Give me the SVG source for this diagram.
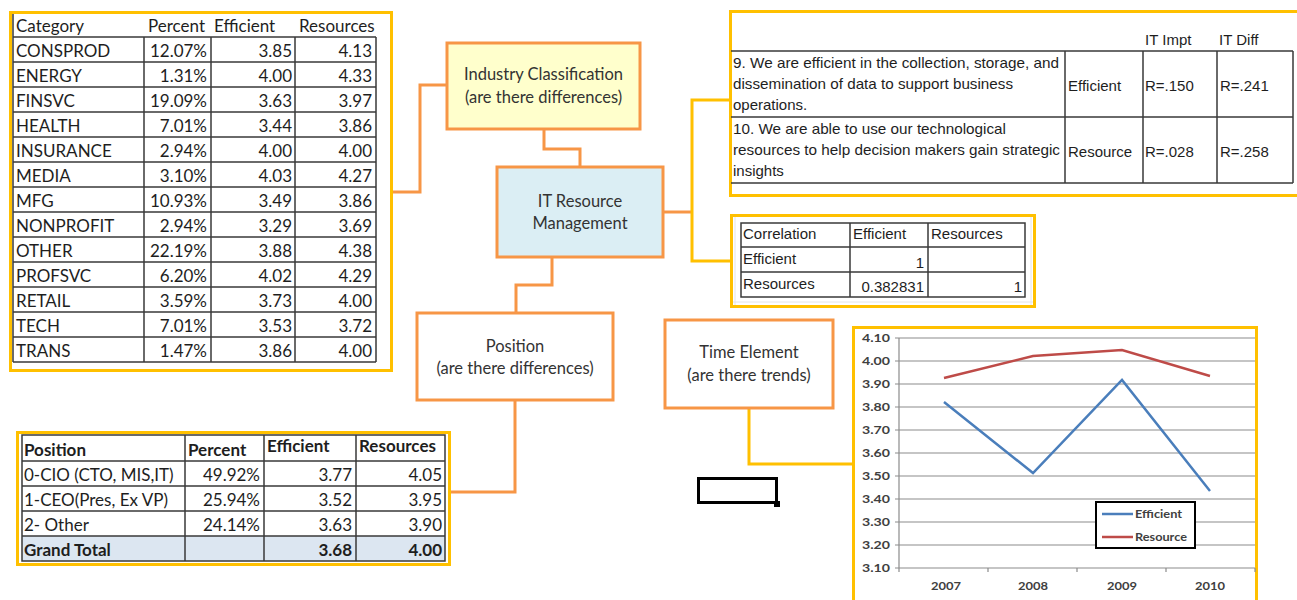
<svg xmlns="http://www.w3.org/2000/svg" width="1297" height="600" viewBox="0 0 1297 600">
<style>
.frame{fill:#fff;stroke:#FFC000;stroke-width:3}
.node{stroke:#F79646;stroke-width:3}
.conO{fill:none;stroke:#F79646;stroke-width:3}
.conY{fill:none;stroke:#FFC000;stroke-width:3}
.grid{stroke:#3a3a3a;stroke-width:1.5;fill:none}
.faint{stroke:#e4e4e4;stroke-width:1;fill:none}
.cal{font-family:Lato,"Liberation Sans",sans-serif;font-size:17px;fill:#1e1e1e}
.ar{font-family:"Liberation Sans",Arial,sans-serif;font-size:15px;fill:#1e1e1e}
.nt{font-family:Lato,"Liberation Sans",sans-serif;font-size:16.5px;fill:#333;text-anchor:middle}
.ch{font-family:Lato,"Liberation Sans",sans-serif;font-size:11px;font-weight:bold;fill:#404040}
.r{text-anchor:end}
.m{text-anchor:middle}
.b{font-weight:bold}
.gl{stroke:#8c8c8c;stroke-width:1.2;fill:none}
</style>
<rect x="0" y="0" width="1297" height="600" fill="#fff"/>

<g id="connectors">
  <path class="conO" d="M393,192 H420 V85 H447"/>
  <path class="conO" d="M544,129 V149 H580 V167"/>
  <path class="conO" d="M663,212 H692"/>
  <path class="conY" d="M729,100 H692 V261 H730"/>
  <path class="conO" d="M552,257 V285 H516 V313"/>
  <path class="conO" d="M515,400 V492 H451"/>
  <path class="conY" d="M749,408 V464 H853"/>
</g>

<g id="industry-table">
  <rect class="frame" x="10.5" y="12.5" width="381" height="358"/>
  <path class="grid" d="M13,14 V362 M144,37 V362 M211,37 V362 M295,37 V362 M376,37 V362
    M13,37 H376 M13,62 H376 M13,87 H376 M13,112 H376 M13,137 H376 M13,162 H376 M13,187 H376
    M13,212 H376 M13,237 H376 M13,262 H376 M13,287 H376 M13,312 H376 M13,337 H376 M13,362 H376"/>
  <g class="cal">
    <text x="16" y="32">Category</text><text x="148" y="32">Percent</text><text x="214" y="32">Efficient</text><text x="299" y="32">Resources</text>
    <text x="16" y="57">CONSPROD</text><text class="r" x="207" y="57">12.07%</text><text class="r" x="292" y="57">3.85</text><text class="r" x="372" y="57">4.13</text>
    <text x="16" y="82">ENERGY</text><text class="r" x="207" y="82">1.31%</text><text class="r" x="292" y="82">4.00</text><text class="r" x="372" y="82">4.33</text>
    <text x="16" y="107">FINSVC</text><text class="r" x="207" y="107">19.09%</text><text class="r" x="292" y="107">3.63</text><text class="r" x="372" y="107">3.97</text>
    <text x="16" y="132">HEALTH</text><text class="r" x="207" y="132">7.01%</text><text class="r" x="292" y="132">3.44</text><text class="r" x="372" y="132">3.86</text>
    <text x="16" y="157">INSURANCE</text><text class="r" x="207" y="157">2.94%</text><text class="r" x="292" y="157">4.00</text><text class="r" x="372" y="157">4.00</text>
    <text x="16" y="182">MEDIA</text><text class="r" x="207" y="182">3.10%</text><text class="r" x="292" y="182">4.03</text><text class="r" x="372" y="182">4.27</text>
    <text x="16" y="207">MFG</text><text class="r" x="207" y="207">10.93%</text><text class="r" x="292" y="207">3.49</text><text class="r" x="372" y="207">3.86</text>
    <text x="16" y="232">NONPROFIT</text><text class="r" x="207" y="232">2.94%</text><text class="r" x="292" y="232">3.29</text><text class="r" x="372" y="232">3.69</text>
    <text x="16" y="257">OTHER</text><text class="r" x="207" y="257">22.19%</text><text class="r" x="292" y="257">3.88</text><text class="r" x="372" y="257">4.38</text>
    <text x="16" y="282">PROFSVC</text><text class="r" x="207" y="282">6.20%</text><text class="r" x="292" y="282">4.02</text><text class="r" x="372" y="282">4.29</text>
    <text x="16" y="307">RETAIL</text><text class="r" x="207" y="307">3.59%</text><text class="r" x="292" y="307">3.73</text><text class="r" x="372" y="307">4.00</text>
    <text x="16" y="332">TECH</text><text class="r" x="207" y="332">7.01%</text><text class="r" x="292" y="332">3.53</text><text class="r" x="372" y="332">3.72</text>
    <text x="16" y="357">TRANS</text><text class="r" x="207" y="357">1.47%</text><text class="r" x="292" y="357">3.86</text><text class="r" x="372" y="357">4.00</text>
  </g>
</g>

<g id="industry-node">
  <rect class="node" x="447" y="43" width="193" height="86" fill="#FFFFCC"/>
  <text class="nt" x="543.5" y="80">Industry Classification</text>
  <text class="nt" x="543.5" y="103">(are there differences)</text>
</g>

<g id="it-node">
  <rect class="node" x="497" y="167" width="166" height="90" fill="#DBEEF4"/>
  <text class="nt" x="580" y="207">IT Resource</text>
  <text class="nt" x="580" y="229">Management</text>
</g>

<g id="position-node">
  <rect class="node" x="417" y="313" width="196" height="87" fill="#fff"/>
  <text class="nt" x="515" y="352">Position</text>
  <text class="nt" x="515" y="374">(are there differences)</text>
</g>

<g id="time-node">
  <rect class="node" x="665" y="320" width="168" height="88" fill="#fff"/>
  <text class="nt" x="749" y="358">Time Element</text>
  <text class="nt" x="749" y="381">(are there trends)</text>
</g>

<g id="position-table">
  <rect class="frame" x="17.5" y="432.5" width="432" height="132"/>
  <rect x="22" y="536" width="423" height="25" fill="#DCE6F1"/>
  <path class="grid" d="M22,435 H445 V561 H22 Z M22,461 H445 M22,486 H445 M22,511 H445 M22,536 H445 M185,435 V561 M264,435 V561 M356,435 V561"/>
  <g class="cal">
    <text class="b" x="24" y="456">Position</text><text class="b" x="188" y="456">Percent</text><text class="b" x="267" y="452">Efficient</text><text class="b" x="359" y="452">Resources</text>
    <text x="24" y="481">0-CIO (CTO, MIS,IT)</text><text class="r" x="260" y="481">49.92%</text><text class="r" x="352" y="481">3.77</text><text class="r" x="442" y="481">4.05</text>
    <text x="24" y="506">1-CEO(Pres, Ex VP)</text><text class="r" x="260" y="506">25.94%</text><text class="r" x="352" y="506">3.52</text><text class="r" x="442" y="506">3.95</text>
    <text x="24" y="531">2- Other</text><text class="r" x="260" y="531">24.14%</text><text class="r" x="352" y="531">3.63</text><text class="r" x="442" y="531">3.90</text>
    <text class="b" x="24" y="556">Grand Total</text><text class="r b" x="352" y="556">3.68</text><text class="r b" x="442" y="556">4.00</text>
  </g>
</g>

<g id="questions-table">
  <rect class="frame" x="730.5" y="11.5" width="572" height="184"/>
  <path class="grid" d="M731,51 H1293 M731,117 H1293 M731,183 H1293 M1065,51 V183 M1143,51 V183 M1217,51 V183 M1293,51 V183"/>
  <g class="ar">
    <text x="1145" y="45">IT Impt</text><text x="1219" y="45">IT Diff</text>
    <text x="733" y="68" textLength="326" lengthAdjust="spacingAndGlyphs">9. We are efficient in the collection, storage, and</text>
    <text x="733" y="89" textLength="280" lengthAdjust="spacingAndGlyphs">dissemination of data to support business</text>
    <text x="733" y="110">operations.</text>
    <text x="1068" y="91">Efficient</text><text x="1145" y="91">R=.150</text><text x="1220" y="91">R=.241</text>
    <text x="733" y="134" textLength="273" lengthAdjust="spacingAndGlyphs">10. We are able to use our technological</text>
    <text x="733" y="155" textLength="327" lengthAdjust="spacingAndGlyphs">resources to help decision makers gain strategic</text>
    <text x="733" y="176">insights</text>
    <text x="1068" y="157">Resource</text><text x="1145" y="157">R=.028</text><text x="1220" y="157">R=.258</text>
  </g>
</g>

<g id="correlation-table">
  <rect class="frame" x="731.5" y="215.5" width="303" height="91"/>
  <path class="faint" d="M735,217 V305 M1031,217 V305 M733,302 H1033"/>
  <path class="grid" d="M741,223 H1025 V297 H741 Z M741,247 H1025 M741,272 H1025 M850,223 V297 M928,223 V297"/>
  <g class="ar">
    <text x="743" y="239">Correlation</text><text x="853" y="239">Efficient</text><text x="931" y="239">Resources</text>
    <text x="743" y="264">Efficient</text><text class="r" x="924" y="268">1</text>
    <text x="743" y="289">Resources</text><text class="r" x="924" y="292">0.382831</text><text class="r" x="1022" y="292">1</text>
  </g>
</g>

<g id="chart">
  <rect x="853.5" y="327.5" width="403" height="280" fill="#fff"/>
  <path class="conY" d="M853.5,606 V327.5 H1256.5 V606"/>
  <path class="gl" d="M899,338 H1255 M899,361 H1255 M899,384 H1255 M899,407 H1255 M899,430 H1255 M899,453 H1255 M899,476 H1255 M899,499 H1255 M899,522 H1255 M899,545 H1255 M899,568 H1255
    M899,338 V572 M895,338 H899 M895,361 H899 M895,384 H899 M895,407 H899 M895,430 H899 M895,453 H899 M895,476 H899 M895,499 H899 M895,522 H899 M895,545 H899 M895,568 H899
    M988,568 V572 M1077,568 V572 M1166,568 V572 M1255,568 V572"/>
  <g class="ch">
    <text class="r" x="890" y="342" textLength="28" lengthAdjust="spacingAndGlyphs">4.10</text>
    <text class="r" x="890" y="365" textLength="28" lengthAdjust="spacingAndGlyphs">4.00</text>
    <text class="r" x="890" y="388" textLength="28" lengthAdjust="spacingAndGlyphs">3.90</text>
    <text class="r" x="890" y="411" textLength="28" lengthAdjust="spacingAndGlyphs">3.80</text>
    <text class="r" x="890" y="434" textLength="28" lengthAdjust="spacingAndGlyphs">3.70</text>
    <text class="r" x="890" y="457" textLength="28" lengthAdjust="spacingAndGlyphs">3.60</text>
    <text class="r" x="890" y="480" textLength="28" lengthAdjust="spacingAndGlyphs">3.50</text>
    <text class="r" x="890" y="503" textLength="28" lengthAdjust="spacingAndGlyphs">3.40</text>
    <text class="r" x="890" y="526" textLength="28" lengthAdjust="spacingAndGlyphs">3.30</text>
    <text class="r" x="890" y="549" textLength="28" lengthAdjust="spacingAndGlyphs">3.20</text>
    <text class="r" x="890" y="572" textLength="28" lengthAdjust="spacingAndGlyphs">3.10</text>
    <text class="m" x="946" y="590" textLength="30" lengthAdjust="spacingAndGlyphs">2007</text>
    <text class="m" x="1033" y="590" textLength="30" lengthAdjust="spacingAndGlyphs">2008</text>
    <text class="m" x="1122" y="590" textLength="30" lengthAdjust="spacingAndGlyphs">2009</text>
    <text class="m" x="1210" y="590" textLength="30" lengthAdjust="spacingAndGlyphs">2010</text>
  </g>
  <polyline points="944,378 1033,356 1122,350 1210,376" fill="none" stroke="#BE4B48" stroke-width="2.5"/>
  <polyline points="944,402 1033,473 1122,380 1210,491" fill="none" stroke="#4A7EBB" stroke-width="2.5"/>
  <rect x="1096" y="502" width="99" height="46" fill="#fff" stroke="#000" stroke-width="2"/>
  <path d="M1102,514 H1133" stroke="#4A7EBB" stroke-width="2.5"/>
  <path d="M1102,537 H1133" stroke="#BE4B48" stroke-width="2.5"/>
  <text class="ch" x="1135" y="518" textLength="47" lengthAdjust="spacingAndGlyphs">Efficient</text>
  <text class="ch" x="1135" y="541" textLength="52" lengthAdjust="spacingAndGlyphs">Resource</text>
</g>

<g id="cell-marker">
  <rect x="698.5" y="478.5" width="78" height="24" fill="none" stroke="#000" stroke-width="3"/>
  <rect x="774" y="501" width="6" height="6" fill="#000"/>
</g>
</svg>
